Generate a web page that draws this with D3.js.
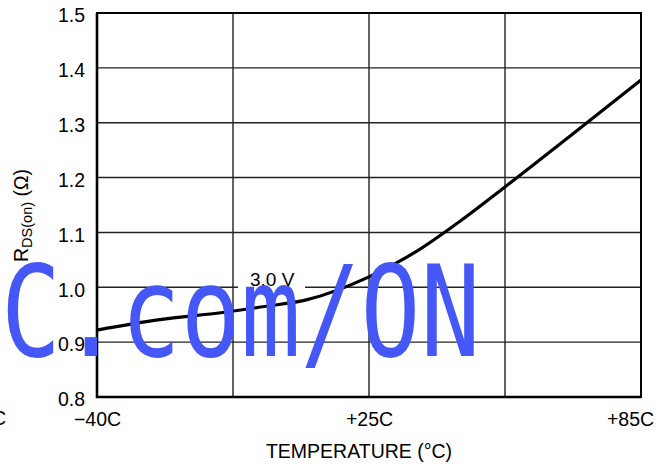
<!DOCTYPE html>
<html>
<head>
<meta charset="utf-8">
<script src="https://cdn.jsdelivr.net/npm/d3@7"></script>
<style>
  body { margin: 0; background: #fff; }
  svg { display: block; }
  text { font-family: "Liberation Sans", Arial, sans-serif; fill: #000; }
</style>
</head>
<body>
<svg id="chart" width="671" height="469"></svg>
<script>
// данные графика
var temps = [-40, -25, -10, 0, 10, 25, 35, 45, 55, 70, 85];                      // температура, °C
var rdsOn = [0.922, 0.941, 0.954, 0.965, 0.977, 1.019, 1.063, 1.12, 1.183, 1.28, 1.378]; // Rds(on), Ом
var yTicks = [0.8, 0.9, 1.0, 1.1, 1.2, 1.3, 1.4, 1.5];
var xGrid = [-40, -7.5, 25, 55, 85];  // вертикальные линии сетки
var xTickLabels = [-40, 25, 85];
var curveLabel = '3.0 V';

var svg = d3.select('#chart'),
    plotLeft = 97, plotRight = 641, plotTop = 13, plotBottom = 397; // границы области построения

var x = d3.scaleLinear().domain([-40, 25, 85]).range([plotLeft, (plotLeft + plotRight) / 2, plotRight]),
    y = d3.scaleLinear().domain([0.8, 1.5]).range([plotBottom, plotTop]);

// сетка
svg.append('g')
    .selectAll('line')
    .data(yTicks)
    .enter()
    .append('line')
    .attr('x1', plotLeft).attr('x2', plotRight)
    .attr('y1', function(d) { return y(d); })
    .attr('y2', function(d) { return y(d); })
    .attr('stroke', '#222').attr('stroke-width', 1.4);

svg.append('g')
    .selectAll('line')
    .data(xGrid)
    .enter()
    .append('line')
    .attr('y1', plotTop).attr('y2', plotBottom)
    .attr('x1', function(d) { return x(d); })
    .attr('x2', function(d) { return x(d); })
    .attr('stroke', '#222').attr('stroke-width', 1.4);

// рамка
svg.append('rect')
    .attr('x', plotLeft).attr('y', plotTop)
    .attr('width', plotRight - plotLeft).attr('height', plotBottom - plotTop)
    .attr('fill', 'none').attr('stroke', '#000').attr('stroke-width', 2);
svg.append('path')
    .attr('d', 'M' + plotLeft + ',' + plotTop + 'V' + plotBottom + 'H' + plotRight)
    .attr('fill', 'none').attr('stroke', '#000').attr('stroke-width', 2.6);

// оси
var yAxis = svg.append('g')
    .attr('transform', 'translate(' + plotLeft + ',0)')
    .call(d3.axisLeft(y).tickValues(yTicks).tickSize(0).tickPadding(12).tickFormat(d3.format('.1f')));
yAxis.select('.domain').remove();
yAxis.selectAll('text').attr('font-size', 19.5).attr('dy', '0.45em')
    .style('font-family', '"Liberation Sans", Arial, sans-serif');

var xAxis = svg.append('g')
    .attr('transform', 'translate(0,' + plotBottom + ')')
    .call(d3.axisBottom(x).tickValues(xTickLabels).tickSize(0).tickPadding(15)
        .tickFormat(function(d) { return (d < 0 ? '\u2212' + (-d) : '+' + d) + 'C'; }));
xAxis.select('.domain').remove();
xAxis.selectAll('text').attr('font-size', 19.5)
    .style('font-family', '"Liberation Sans", Arial, sans-serif')
    .attr('dx', function(d) { return d === 85 ? -11 : 0; });

// обрезанная подпись соседнего графика
svg.append('text').attr('x', 6).attr('y', 425).attr('text-anchor', 'end')
    .attr('font-size', 19.5).text('+85C');

// подписи осей
svg.append('text').attr('x', 359).attr('y', 458).attr('text-anchor', 'middle')
    .attr('font-size', 19.5).text('TEMPERATURE (\u00B0C)');

var yTitle = svg.append('text')
    .attr('transform', 'translate(28,262) rotate(-90)')
    .attr('font-size', 19.5);
yTitle.append('tspan').text('R');
yTitle.append('tspan').attr('font-size', 14.5).attr('dy', 4).text('DS(on)');
yTitle.append('tspan').attr('dy', -4).text('\u00A0(\u03A9)');

// подпись кривой на белом фоне
svg.append('rect').attr('x', 238).attr('y', 270).attr('width', 67).attr('height', 22).attr('fill', '#fff');
svg.append('text').attr('x', 250).attr('y', 286).attr('font-size', 19).text(curveLabel);

// кривая
var line = d3.line()
    .x(function(d, i) { return x(temps[i]); })
    .y(function(d) { return y(d); })
    .curve(d3.curveMonotoneX);

svg.append('path')
    .datum(rdsOn)
    .attr('d', line)
    .attr('fill', 'none')
    .attr('stroke', '#000')
    .attr('stroke-width', 3.2)
    .attr('stroke-linejoin', 'round');

// водяной знак (моноширинный, сжатый по горизонтали)
svg.append('text')
    .attr('transform', 'translate(1,356) scale(0.79,1)')
    .attr('font-size', 126)
    .style('font-family', '"DejaVu Sans Mono", "Liberation Mono", monospace')
    .style('fill', '#4657f8')
    .text('C.com/ON');
</script>
</body>
</html>
